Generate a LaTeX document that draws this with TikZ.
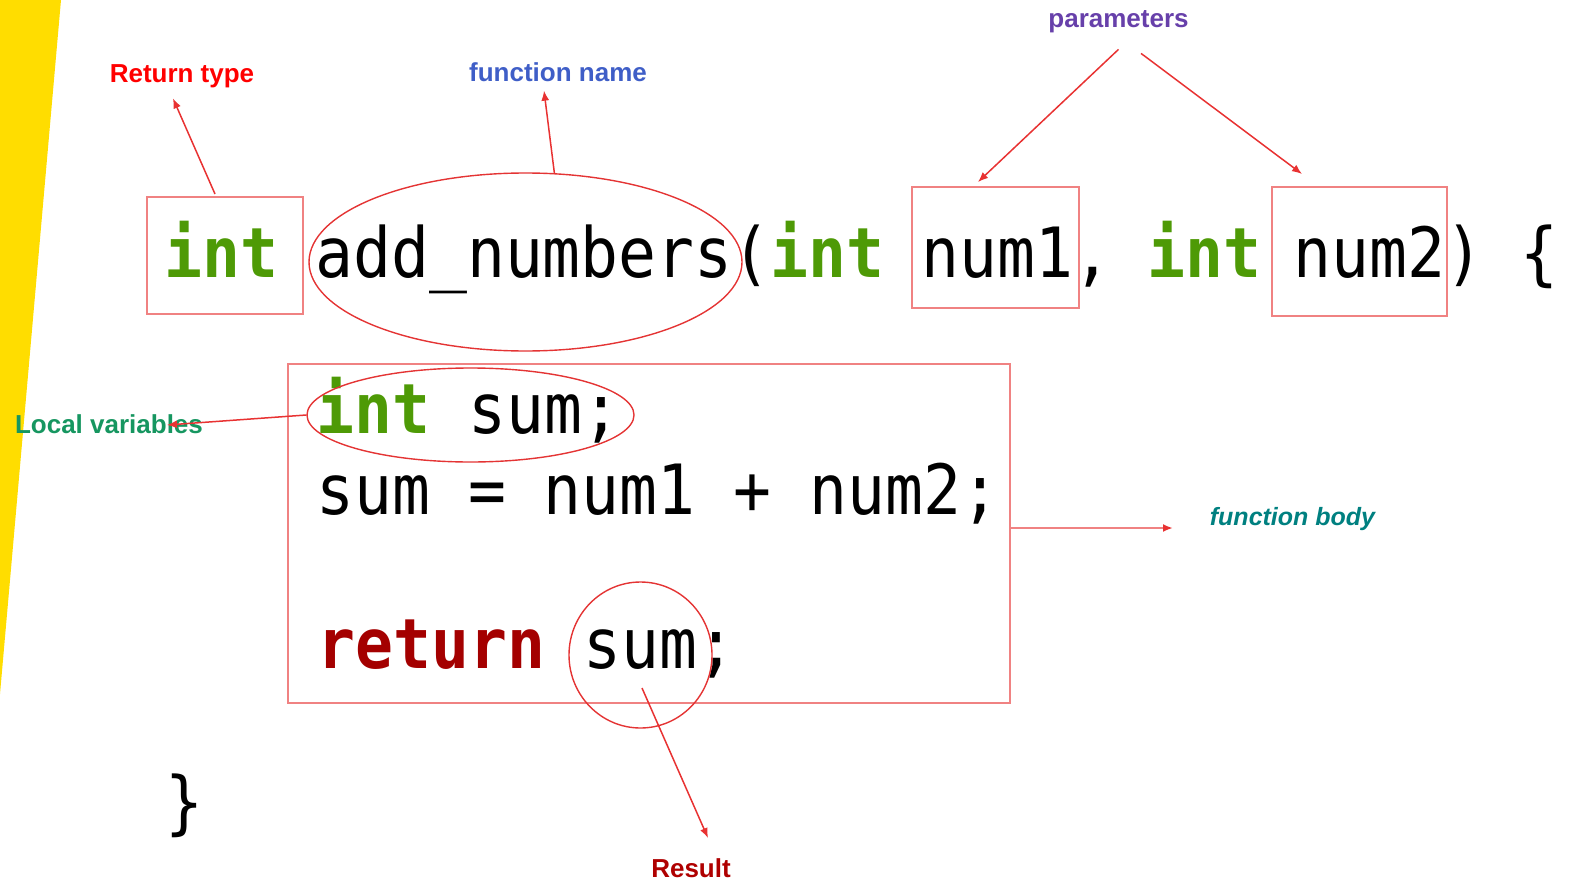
\documentclass[tikz,border=0pt]{standalone}
\usepackage{fontspec}
\usepackage{graphicx}
\usetikzlibrary{arrows.meta,shapes.geometric}

\newfontfamily\codefont{DejaVu Sans Mono}[WordSpace={1,0,0}]
\newfontfamily\labelfont{Liberation Sans}

\definecolor{bandyellow}{RGB}{255,221,0}
\definecolor{kwgreen}{RGB}{78,154,6}
\definecolor{kwred}{RGB}{164,0,0}
\definecolor{boxred}{RGB}{240,130,130}
\definecolor{ringred}{RGB}{228,52,52}
\definecolor{arrowred}{RGB}{232,50,50}
\definecolor{rtred}{RGB}{255,0,0}
\definecolor{fnblue}{RGB}{63,94,199}
\definecolor{parpurple}{RGB}{103,64,170}
\definecolor{lvgreen}{RGB}{22,150,96}
\definecolor{fbteal}{RGB}{0,128,128}
\definecolor{resred}{RGB}{175,0,0}

% monospaced source text, slightly stretched vertically
\newcommand{\code}[1]{\scalebox{1}[1.1]{\codefont\fontsize{31.5}{38}\selectfont\frenchspacing #1}}

\begin{document}
\begin{tikzpicture}[x=0.5pt,y=-0.5pt,
  codetxt/.style={inner sep=0pt, anchor=base west},
  kw/.style={codetxt, text=kwgreen},
  box/.style={draw=boxred, line width=1pt, rectangle, inner sep=0pt},
  ring/.style={draw=ringred, line width=0.7pt, ellipse, inner sep=0pt},
  lbl/.style={inner sep=0pt, anchor=base, font=\labelfont\bfseries\fontsize{13}{15}\selectfont},
  arr/.style={draw=arrowred, line width=0.75pt, -{Latex[length=5pt,width=4pt]}},
  bodyarr/.style={draw=boxred, line width=1pt, -{Latex[length=5pt,width=4pt,color=arrowred]}}]

\useasboundingbox (0,0) rectangle (1588,882);

% slanted yellow band on the left edge
\fill[bandyellow] (0,0) -- (61,0) -- (0,694) -- cycle;

% function header
\node[kw] (kwone) at (164,278) {\code{\bfseries int}};
\node[codetxt] (fnname) at (315,278) {\code{add\_numbers(}};
\node[kw] (kwtwo) at (770,278) {\code{\bfseries int}};
\node[codetxt] (argone) at (921,278) {\code{num1,}};
\node[kw] (kwthree) at (1147,278) {\code{\bfseries int}};
\node[codetxt] (argtwo) at (1293,278) {\code{num2)\ \{}};

% function body
\node[kw] (decl) at (316,433) {\code{\bfseries int}};
\node[codetxt] (declvar) at (468,433) {\code{sum;}};
\node[codetxt] (assign) at (316,514) {\code{sum = num1 + num2;}};
\node[codetxt, text=kwred] (retkw) at (317,668) {\code{\bfseries return}};
\node[codetxt] (retval) at (583,668) {\code{sum;}};
\node[codetxt] (closebrace) at (165,826) {\code{\}}};

% highlight boxes and rings
\node[box, minimum width=78pt, minimum height=58.5pt] (rtbox) at (225,255.5) {};
\node[box, minimum width=83.5pt, minimum height=60.5pt] (numonebox) at (995.5,247.5) {};
\node[box, minimum width=87.5pt, minimum height=64.5pt] (numtwobox) at (1359.5,251.5) {};
\node[box, minimum width=361pt, minimum height=169.5pt] (bodybox) at (649,533.5) {};
\node[ring, minimum width=216.5pt, minimum height=89pt] (fnell) at (525.5,262) {};
\node[ring, minimum width=163.5pt, minimum height=47pt] (lvell) at (470.5,415) {};
\node[ring, minimum width=71.5pt, minimum height=73pt] (rescirc) at (640.5,655) {};

% labels
\node[lbl, text=rtred] (rtlabel) at (182,83) {Return type};
\node[lbl, text=fnblue] (fnlabel) at (558,82) {function name};
\node[lbl, text=parpurple] (parlabel) at (1118.5,28) {parameters};
\node[lbl, text=lvgreen] (lvlabel) at (109,433) {Local variables};
\node[lbl, text=fbteal, font=\labelfont\bfseries\itshape\fontsize{12.5}{15}\selectfont] (fblabel) at (1292.5,525) {function body};
\node[lbl, text=resred] (reslabel) at (691,877) {Result};

% connectors
\coordinate (sumfoot) at (642,688);
\draw[arr] ([xshift=-5pt,yshift=1pt]rtbox.north) -- ([xshift=-4.5pt,yshift=-4.8pt]rtlabel.south);
\draw[arr] (fnell.72) -- ([xshift=-7pt,yshift=-4pt]fnlabel.south);
\draw[arr] ([yshift=-7.8pt]parlabel.south) -- ([xshift=-8.75pt,yshift=2pt]numonebox.north);
\draw[arr] ([xshift=11.25pt,yshift=-9.8pt]parlabel.south) -- ([xshift=-28.75pt,yshift=6pt]numtwobox.north);
\draw[arr] (lvell.west) -- ([xshift=29pt,yshift=4pt]lvlabel.base);
\draw[bodyarr] ([yshift=2.75pt]bodybox.east) -- ([xshift=-59.75pt,yshift=-1.5pt]fblabel.base);
\draw[arr] (sumfoot) -- ([xshift=8.5pt,yshift=19.5pt]reslabel.base);

\end{tikzpicture}
\end{document}
